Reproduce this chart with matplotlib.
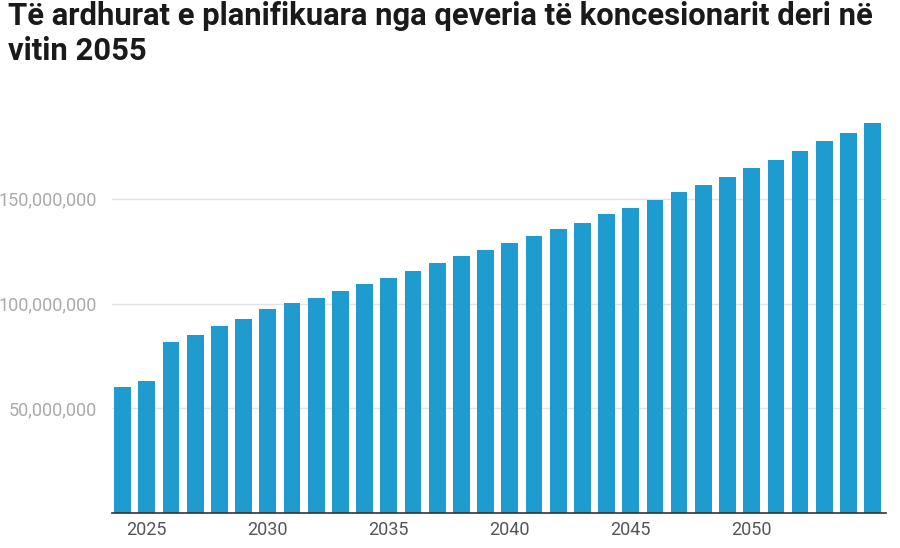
import matplotlib
matplotlib.use('Agg')
import matplotlib.pyplot as plt
import numpy as np

# data
years = list(range(2024, 2056))
revenue = [60.0, 62.9, 81.8, 85.1, 89.2, 92.5, 97.3, 100.1,
           102.7, 106.0, 109.5, 112.1, 115.6, 119.5, 122.9, 125.6,
           128.9, 132.4, 135.8, 138.5, 142.6, 145.8, 149.3, 153.3,
           156.6, 160.6, 164.8, 168.7, 172.9, 177.7, 181.6, 186.2]  # millions
ytick_vals = [50e6, 100e6, 150e6]
xtick_years = [2025, 2030, 2035, 2040, 2045, 2050]

title = 'Të ardhurat e planifikuara nga qeveria të koncesionarit deri në\nvitin 2055'

plt.rcParams['font.family'] = ['Roboto', 'DejaVu Sans']

W, H = 900, 548
fig = plt.figure(figsize=(W / 100, H / 100), dpi=100)
# axes placed in pixel terms
left, right, bottom, top = 112, 886, 513, 115
ax = fig.add_axes([left / W, 1 - bottom / H, (right - left) / W, (bottom - top) / H])

vals = np.array(revenue) * 1e6
ax.bar(years, vals, width=0.69, color='#1f9ccf', zorder=2)

ax.set_xlim(2023.56, 2055.55)
ax.set_ylim(0, 190e6)

ax.set_yticks(ytick_vals)
ax.set_yticklabels([f'{v:,.0f}' for v in ytick_vals], fontsize=13, color='#aaaaaa')
ax.set_xticks(xtick_years)
ax.set_xticklabels([str(y) for y in xtick_years], fontsize=13, color='#555555')
ax.tick_params(axis='y', length=0, pad=11)
ax.tick_params(axis='x', length=0, pad=6)

ax.grid(axis='y', color='#e3e3e3', linewidth=1, zorder=0)
for s in ['top', 'right', 'left']:
    ax.spines[s].set_visible(False)
ax.spines['bottom'].set_color('#333333')
ax.spines['bottom'].set_linewidth(1.2)
ax.spines['bottom'].set_zorder(3)

fig.text(8 / W, 1 - 1 / H, title, fontsize=22.3, fontweight='bold', color='#1a1a1a',
         ha='left', va='top', linespacing=1.2)

fig.savefig('out.png', dpi=100, facecolor='white')
